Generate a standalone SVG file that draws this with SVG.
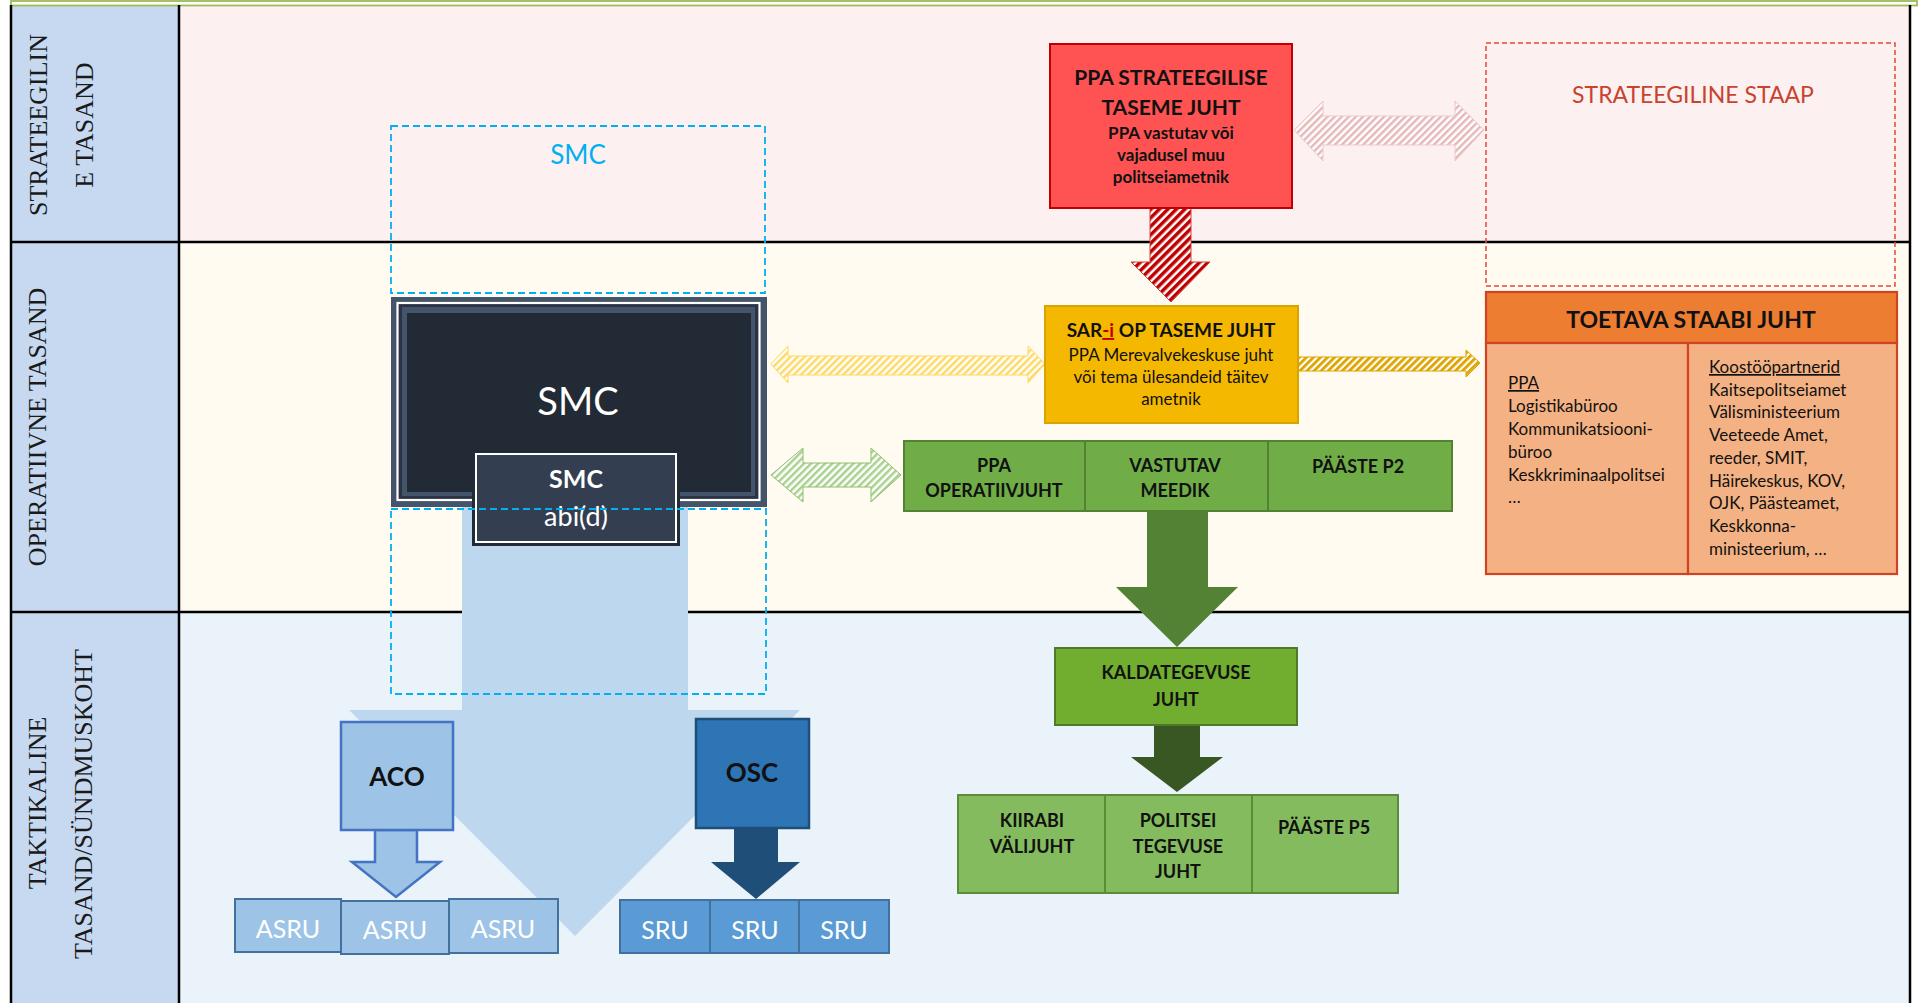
<svg xmlns="http://www.w3.org/2000/svg" width="1918" height="1003" viewBox="0 0 1918 1003">
<style>
.lbl{font-family:"Liberation Serif","Times New Roman",serif;font-size:26px;fill:#1a1a1a;text-anchor:middle}
.c{font-family:Lato,"Liberation Sans",sans-serif;text-anchor:middle}
.b{font-weight:bold}
.l{font-family:Lato,"Liberation Sans",sans-serif;font-size:17px;fill:#111}
.k{fill:#111}
.w{fill:#fff}
</style>
<defs>
<pattern id="hRed" width="6" height="6" patternUnits="userSpaceOnUse" patternTransform="rotate(45)"><rect width="6" height="6" fill="#fff"/><rect width="3.5" height="6" fill="#C00000"/></pattern>
<pattern id="hPink" width="5" height="5" patternUnits="userSpaceOnUse" patternTransform="rotate(45)"><rect width="5" height="5" fill="#fff"/><rect width="2.5" height="5" fill="#E6B9B8"/></pattern>
<pattern id="hYel" width="5" height="5" patternUnits="userSpaceOnUse" patternTransform="rotate(45)"><rect width="5" height="5" fill="#fff"/><rect width="2.5" height="5" fill="#FFD966"/></pattern>
<pattern id="hGold" width="5" height="5" patternUnits="userSpaceOnUse" patternTransform="rotate(45)"><rect width="5" height="5" fill="#fff"/><rect width="2.8" height="5" fill="#DDA400"/></pattern>
<pattern id="hGrn" width="5" height="5" patternUnits="userSpaceOnUse" patternTransform="rotate(45)"><rect width="5" height="5" fill="#fff"/><rect width="2.5" height="5" fill="#A9D18E"/></pattern>
</defs>

<g id="background">
<rect x="0" y="0" width="1918" height="1003" fill="#fff"/>
<rect x="179" y="6" width="1731" height="236" fill="#FDF0F0"/>
<rect x="179" y="242" width="1731" height="370" fill="#FFFBF0"/>
<rect x="179" y="612" width="1731" height="391" fill="#EAF2FA"/>
<rect x="11" y="6" width="168" height="997" fill="#C6D9F1"/>
<rect x="11" y="1" width="1906" height="4.5" fill="#fff" stroke="#9BBB59" stroke-width="1.8"/>
<g stroke="#000" stroke-width="2.5">
<line x1="11" y1="5" x2="11" y2="1003"/>
<line x1="179" y1="5" x2="179" y2="1003"/>
<line x1="1910" y1="5" x2="1910" y2="1003"/>
<line x1="11" y1="242" x2="1910" y2="242"/>
<line x1="11" y1="612" x2="1910" y2="612"/>
</g>
</g>

<g id="level-labels">
<text class="lbl" transform="translate(47,125) rotate(-90)">STRATEEGILIN</text>
<text class="lbl" transform="translate(93,125) rotate(-90)">E TASAND</text>
<text class="lbl" transform="translate(46,427) rotate(-90)">OPERATIIVNE TASAND</text>
<text class="lbl" transform="translate(46,803) rotate(-90)">TAKTIKALINE</text>
<text class="lbl" transform="translate(92,804) rotate(-90)">TASAND/SÜNDMUSKOHT</text>
</g>

<g id="connectors">
<path d="M462,500 L688,500 L688,710 L800,710 L575,936 L349,710 L462,710 Z" fill="#BDD7EE"/>
<path d="M1150,208 L1191,208 L1191,262 L1210,262 L1171,302 L1131,262 L1150,262 Z" fill="url(#hRed)" stroke="#D04040" stroke-width="1"/>
<path d="M1294,130 L1323,101 L1323,116 L1455,116 L1455,101 L1484,130 L1455,161 L1455,145 L1323,145 L1323,161 Z" fill="url(#hPink)" stroke="#EBCBCA" stroke-width="1"/>
<path d="M771,364 L788,346 L788,356 L1028,356 L1028,346 L1045,364 L1028,383 L1028,375 L788,375 L788,383 Z" fill="url(#hYel)" stroke="#FFD966" stroke-width="1"/>
<path d="M1296,357 L1466,357 L1466,350 L1480,363 L1466,377 L1466,371 L1296,371 Z" fill="url(#hGold)" stroke="#DDA400" stroke-width="1"/>
<path d="M771,475 L803,448 L803,463 L871,463 L871,448 L901,475 L871,502 L871,487 L803,487 L803,502 Z" fill="url(#hGrn)" stroke="#8FBF6E" stroke-width="1"/>
<path d="M1147,511 L1208,511 L1208,587 L1238,587 L1177,647 L1116,587 L1147,587 Z" fill="#548235"/>
<path d="M1154,725 L1200,725 L1200,757 L1223,757 L1177,792 L1131,757 L1154,757 Z" fill="#385723"/>
<path d="M375,830 L417,830 L417,862 L440,862 L396,897 L352,862 L375,862 Z" fill="#9DC3E6" stroke="#4472C4" stroke-width="2.5"/>
<path d="M734,828 L778,828 L778,862 L800,862 L756,899 L711,862 L734,862 Z" fill="#1F4E79"/>
</g>

<g id="smc-frame">
<rect x="391" y="126" width="374" height="167" fill="none" stroke="#00B0F0" stroke-width="1.8" stroke-dasharray="7,4"/>
<text class="c" x="578" y="164" font-size="26" fill="#00B0F0">SMC</text>
</g>

<g id="smc">
<rect x="391" y="297" width="376" height="210" fill="#44546A"/>
<rect x="397.5" y="303" width="362" height="197" fill="#2B3444" stroke="#fff" stroke-width="2.2"/>
<rect x="402" y="307" width="353" height="189" fill="#44546A"/>
<rect x="407" y="313" width="344" height="179" fill="#222A35"/>
<text class="c w" x="578" y="415" font-size="38">SMC</text>
</g>

<g id="smc-abid">
<rect x="472" y="452" width="208" height="94" fill="#222A35"/>
<rect x="476" y="454" width="200" height="88" fill="#333F50" stroke="#fff" stroke-width="2"/>
<text class="c b w" x="576" y="488" font-size="25">SMC</text>
<text class="c w" x="576" y="526" font-size="27">abi(d)</text>
</g>

<g id="smc-frame-lower">
<rect x="391" y="509" width="375" height="185" fill="none" stroke="#00B0F0" stroke-width="1.8" stroke-dasharray="7,4"/>
</g>

<g id="ppa-strateegiline">
<rect x="1050" y="44" width="242" height="164" fill="#FF5353" stroke="#C00000" stroke-width="2"/>
<text class="c b k" x="1171" y="85" font-size="21">PPA STRATEEGILISE</text>
<text class="c b k" x="1171" y="115" font-size="21">TASEME JUHT</text>
<text class="c b k" x="1171" y="139" font-size="17">PPA vastutav või</text>
<text class="c b k" x="1171" y="161" font-size="17">vajadusel muu</text>
<text class="c b k" x="1171" y="183" font-size="17">politseiametnik</text>
</g>

<g id="strateegiline-staap">
<rect x="1486" y="43" width="409" height="243" fill="none" stroke="#E04B35" stroke-width="1.5" stroke-dasharray="5,3"/>
<text class="c" x="1693" y="103" font-size="23" fill="#C8432E">STRATEEGILINE STAAP</text>
</g>

<g id="sar-op">
<rect x="1045" y="306" width="253" height="117" fill="#F5B800" stroke="#D9A300" stroke-width="2"/>
<text class="c b k" x="1171" y="337" font-size="19">SAR<tspan fill="#C00000" text-decoration="underline">-i</tspan> OP TASEME JUHT</text>
<text class="c k" x="1171" y="361" font-size="17">PPA Merevalvekeskuse juht</text>
<text class="c k" x="1171" y="383" font-size="17">või tema ülesandeid täitev</text>
<text class="c k" x="1171" y="405" font-size="17">ametnik</text>
</g>

<g id="toetava-staap">
<rect x="1486" y="292" width="411" height="51" fill="#ED7D31" stroke="#CF4424" stroke-width="2.2"/>
<text class="c b k" x="1691" y="328" font-size="23">TOETAVA STAABI JUHT</text>
<rect x="1486" y="343" width="202" height="231" fill="#F4B183" stroke="#CF4424" stroke-width="2.2"/>
<rect x="1688" y="343" width="209" height="231" fill="#F4B183" stroke="#CF4424" stroke-width="2.2"/>
<text class="l"><tspan x="1508" y="389" text-decoration="underline">PPA</tspan><tspan x="1508" y="412">Logistikabüroo</tspan><tspan x="1508" y="435">Kommunikatsiooni-</tspan><tspan x="1508" y="458">büroo</tspan><tspan x="1508" y="481">Keskkriminaalpolitsei</tspan><tspan x="1508" y="503">…</tspan></text>
<text class="l"><tspan x="1709" y="373" text-decoration="underline">Koostööpartnerid</tspan><tspan x="1709" y="396">Kaitsepolitseiamet</tspan><tspan x="1709" y="418">Välisministeerium</tspan><tspan x="1709" y="441">Veeteede Amet,</tspan><tspan x="1709" y="464">reeder, SMIT,</tspan><tspan x="1709" y="487">Häirekeskus, KOV,</tspan><tspan x="1709" y="509">OJK, Päästeamet,</tspan><tspan x="1709" y="532">Keskkonna-</tspan><tspan x="1709" y="555">ministeerium, …</tspan></text>
</g>

<g id="ppa-operatiivjuht">
<rect x="904" y="441" width="181" height="70" fill="#70AD47" stroke="#548235" stroke-width="2"/>
<text class="c b k" x="994" y="472" font-size="18">PPA</text>
<text class="c b k" x="994" y="497" font-size="18">OPERATIIVJUHT</text>
</g>
<g id="vastutav-meedik">
<rect x="1085" y="441" width="183" height="70" fill="#70AD47" stroke="#548235" stroke-width="2"/>
<text class="c b k" x="1175" y="472" font-size="18">VASTUTAV</text>
<text class="c b k" x="1175" y="497" font-size="18">MEEDIK</text>
</g>
<g id="paaste-p2">
<rect x="1268" y="441" width="184" height="70" fill="#70AD47" stroke="#548235" stroke-width="2"/>
<text class="c b k" x="1358" y="473" font-size="18">PÄÄSTE P2</text>
</g>

<g id="kaldategevuse-juht">
<rect x="1055" y="648" width="242" height="77" fill="#71AD2F" stroke="#4F7A28" stroke-width="2"/>
<text class="c b k" x="1176" y="679" font-size="18">KALDATEGEVUSE</text>
<text class="c b k" x="1176" y="706" font-size="18">JUHT</text>
</g>

<g id="kiirabi">
<rect x="958" y="795" width="147" height="98" fill="#84BB5E" stroke="#5B8C38" stroke-width="2"/>
<text class="c b k" x="1032" y="827" font-size="18">KIIRABI</text>
<text class="c b k" x="1032" y="853" font-size="18">VÄLIJUHT</text>
</g>
<g id="politsei">
<rect x="1105" y="795" width="147" height="98" fill="#84BB5E" stroke="#5B8C38" stroke-width="2"/>
<text class="c b k" x="1178" y="827" font-size="18">POLITSEI</text>
<text class="c b k" x="1178" y="853" font-size="18">TEGEVUSE</text>
<text class="c b k" x="1178" y="878" font-size="18">JUHT</text>
</g>
<g id="paaste-p5">
<rect x="1252" y="795" width="146" height="98" fill="#84BB5E" stroke="#5B8C38" stroke-width="2"/>
<text class="c b k" x="1324" y="834" font-size="18">PÄÄSTE P5</text>
</g>

<g id="aco">
<rect x="341" y="722" width="112" height="108" fill="#9DC3E6" stroke="#4472C4" stroke-width="2.5"/>
<text class="c b k" x="397" y="786" font-size="26">ACO</text>
</g>
<g id="osc">
<rect x="696" y="719" width="113" height="109" fill="#2E75B6" stroke="#1F4E79" stroke-width="2.5"/>
<text class="c b k" x="752" y="782" font-size="26">OSC</text>
</g>

<g id="asru-1"><rect x="235" y="899" width="106" height="53" fill="#9DC3E6" stroke="#41719C" stroke-width="2"/><text class="c w" x="288" y="938" font-size="25">ASRU</text></g>
<g id="asru-2"><rect x="341" y="901" width="108" height="53" fill="#9DC3E6" stroke="#41719C" stroke-width="2"/><text class="c w" x="395" y="939" font-size="25">ASRU</text></g>
<g id="asru-3"><rect x="449" y="899" width="109" height="54" fill="#9DC3E6" stroke="#41719C" stroke-width="2"/><text class="c w" x="503" y="938" font-size="25">ASRU</text></g>
<g id="sru-1"><rect x="620" y="900" width="90" height="53" fill="#5B9BD5" stroke="#41719C" stroke-width="2"/><text class="c w" x="665" y="939" font-size="25">SRU</text></g>
<g id="sru-2"><rect x="710" y="900" width="89" height="53" fill="#5B9BD5" stroke="#41719C" stroke-width="2"/><text class="c w" x="755" y="939" font-size="25">SRU</text></g>
<g id="sru-3"><rect x="799" y="900" width="90" height="53" fill="#5B9BD5" stroke="#41719C" stroke-width="2"/><text class="c w" x="844" y="939" font-size="25">SRU</text></g>
</svg>
